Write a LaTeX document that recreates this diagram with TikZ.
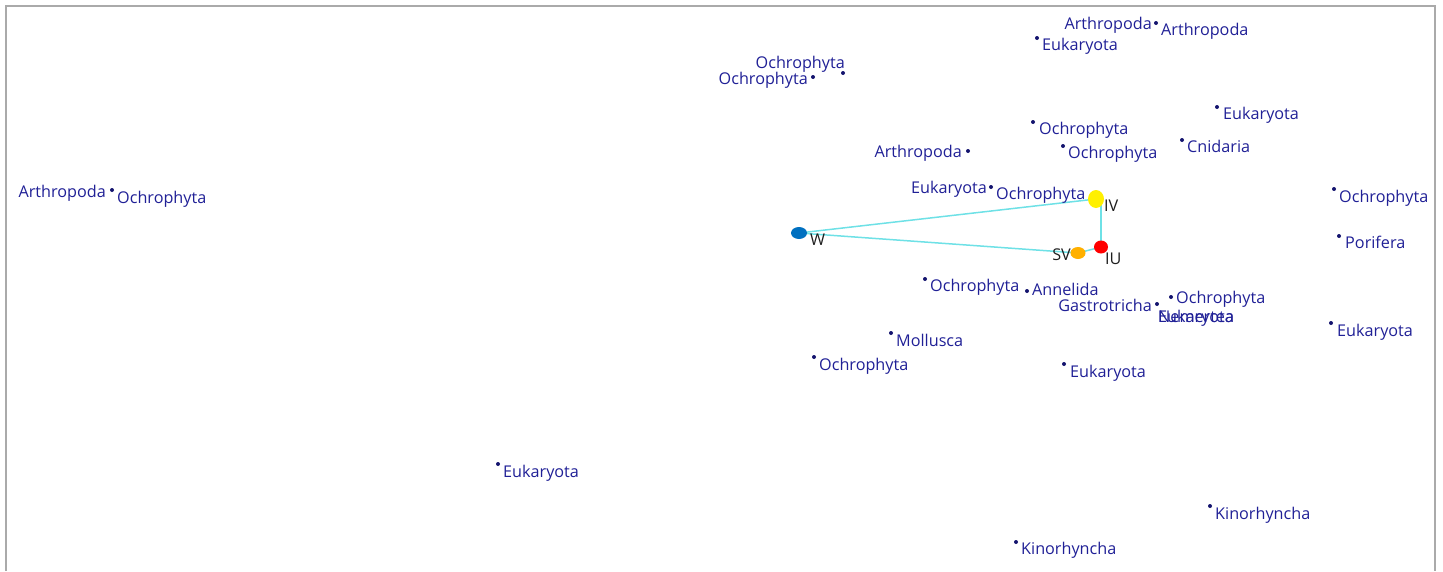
\documentclass[tikz,border=0pt]{standalone}
\usepackage{fontspec}
\setmainfont{Open Sans}
\usetikzlibrary{backgrounds,shapes.geometric}
\definecolor{lblue}{RGB}{32,32,150}
\definecolor{dotblue}{RGB}{20,20,110}
\definecolor{edgecyan}{RGB}{110,225,230}
\definecolor{frame}{RGB}{170,170,170}
\definecolor{wblue}{RGB}{0,112,192}
\definecolor{svorange}{RGB}{255,176,0}
\definecolor{ivyellow}{RGB}{255,240,0}
\definecolor{nodetext}{RGB}{30,30,30}
\tikzset{
  pt/.style={circle,fill=dotblue,inner sep=0pt,minimum size=4pt},
  lab/.style={text=lblue,inner sep=0pt,font=\fontsize{16.2}{18}\selectfont,text height=12pt,text depth=0.5pt},
  gnode/.style={ellipse,inner sep=0pt},
  glab/.style={text=nodetext,inner sep=0pt,font=\fontsize{16.2}{18}\selectfont,text height=12pt,text depth=0.5pt},
  edge/.style={draw=edgecyan,line width=1.5pt}
}
\begin{document}
\begin{tikzpicture}[x=1pt,y=-1pt]
\useasboundingbox (0,0) rectangle (1443,571);
\draw[frame,line width=2pt] (6,571) -- (6,6) -- (1435,6) -- (1435,571);

% dots and labels
\node[pt] (d1) at (1156,23) {};
\node[lab,anchor=east] (l1a) at (1152,24) {Arthropoda};
\node[lab,anchor=west] (l1b) at (1161,30) {Arthropoda};
\node[pt] (d2) at (1037,38) {};
\node[lab,anchor=west] (l2) at (1042,45) {Eukaryota};
\node[pt] (d3) at (843,73) {};
\node[lab,anchor=east] (l3) at (845,63) {Ochrophyta};
\node[pt] (d4) at (813,77) {};
\node[lab,anchor=east] (l4) at (808,79) {Ochrophyta};
\node[pt] (d5) at (1217,107) {};
\node[lab,anchor=west] (l5) at (1223,114) {Eukaryota};
\node[pt] (d6) at (1033,122) {};
\node[lab,anchor=west] (l6) at (1039,129) {Ochrophyta};
\node[pt] (d7) at (1182,140) {};
\node[lab,anchor=west] (l7) at (1187,147) {Cnidaria};
\node[pt] (d8) at (968,151) {};
\node[lab,anchor=east] (l8) at (962,152) {Arthropoda};
\node[pt] (d9) at (1063,146) {};
\node[lab,anchor=west] (l9) at (1068,153) {Ochrophyta};
\node[pt] (d10) at (991,187) {};
\node[lab,anchor=east] (l10a) at (987,188) {Eukaryota};
\node[lab,anchor=west] (l10b) at (996,194) {Ochrophyta};
\node[pt] (d11) at (112,190) {};
\node[lab,anchor=east] (l11a) at (106,192) {Arthropoda};
\node[lab,anchor=west] (l11b) at (117,198) {Ochrophyta};
\node[pt] (d12) at (1334,189) {};
\node[lab,anchor=west] (l12) at (1339,197) {Ochrophyta};
\node[pt] (d13) at (1339,236) {};
\node[lab,anchor=west] (l13) at (1345,243) {Porifera};
\node[pt] (d14) at (925,279) {};
\node[lab,anchor=west] (l14) at (930,286) {Ochrophyta};
\node[pt] (d15) at (1027,291) {};
\node[lab,anchor=west] (l15) at (1032,290) {Annelida};
\node[pt] (d16) at (1157,304) {};
\node[lab,anchor=east] (l16a) at (1152,306) {Gastrotricha};
\node[lab,anchor=west] (l16b) at (1158,317) {Nemertea};
\node[lab,anchor=west] (l16c) at (1158,317) {Eukaryota};
\node[pt] (d17) at (1171,297) {};
\node[lab,anchor=west] (l17) at (1176,298) {Ochrophyta};
\node[pt] (d18) at (891,333) {};
\node[lab,anchor=west] (l18) at (896,341) {Mollusca};
\node[pt] (d19) at (1331,323) {};
\node[lab,anchor=west] (l19) at (1337,331) {Eukaryota};
\node[pt] (d20) at (814,357) {};
\node[lab,anchor=west] (l20) at (819,365) {Ochrophyta};
\node[pt] (d21) at (1064,364) {};
\node[lab,anchor=west] (l21) at (1070,372) {Eukaryota};
\node[pt] (d22) at (498,464) {};
\node[lab,anchor=west] (l22) at (503,472) {Eukaryota};
\node[pt] (d23) at (1210,506) {};
\node[lab,anchor=west] (l23) at (1215,514) {Kinorhyncha};
\node[pt] (d24) at (1016,542) {};
\node[lab,anchor=west] (l24) at (1021,549) {Kinorhyncha};

% graph nodes
\node[gnode,fill=wblue,minimum width=16pt,minimum height=12pt] (W) at (799,233) {};
\node[glab,anchor=west] (lW) at (810,240) {W};
\node[gnode,fill=ivyellow,minimum width=16pt,minimum height=18pt] (IV) at (1096,199) {};
\node[glab,anchor=west] (lIV) at (1104,206) {IV};
\node[gnode,fill=svorange,minimum width=15pt,minimum height=12pt] (SV) at (1078,253) {};
\node[glab,anchor=east] (lSV) at (1071,255) {SV};
\node[gnode,fill=red,minimum width=14pt,minimum height=13pt] (IU) at (1101,247) {};
\node[glab,anchor=west] (lIU) at (1105,259) {IU};

\begin{scope}[on background layer]
\draw[edge] (W.center) -- (IV.center);
\draw[edge] (IV.center) -| (IU.center);
\draw[edge] (W.center) -- (SV.center);
\draw[edge] (SV.center) -- (IU.center);
\end{scope}
\end{tikzpicture}
\end{document}
